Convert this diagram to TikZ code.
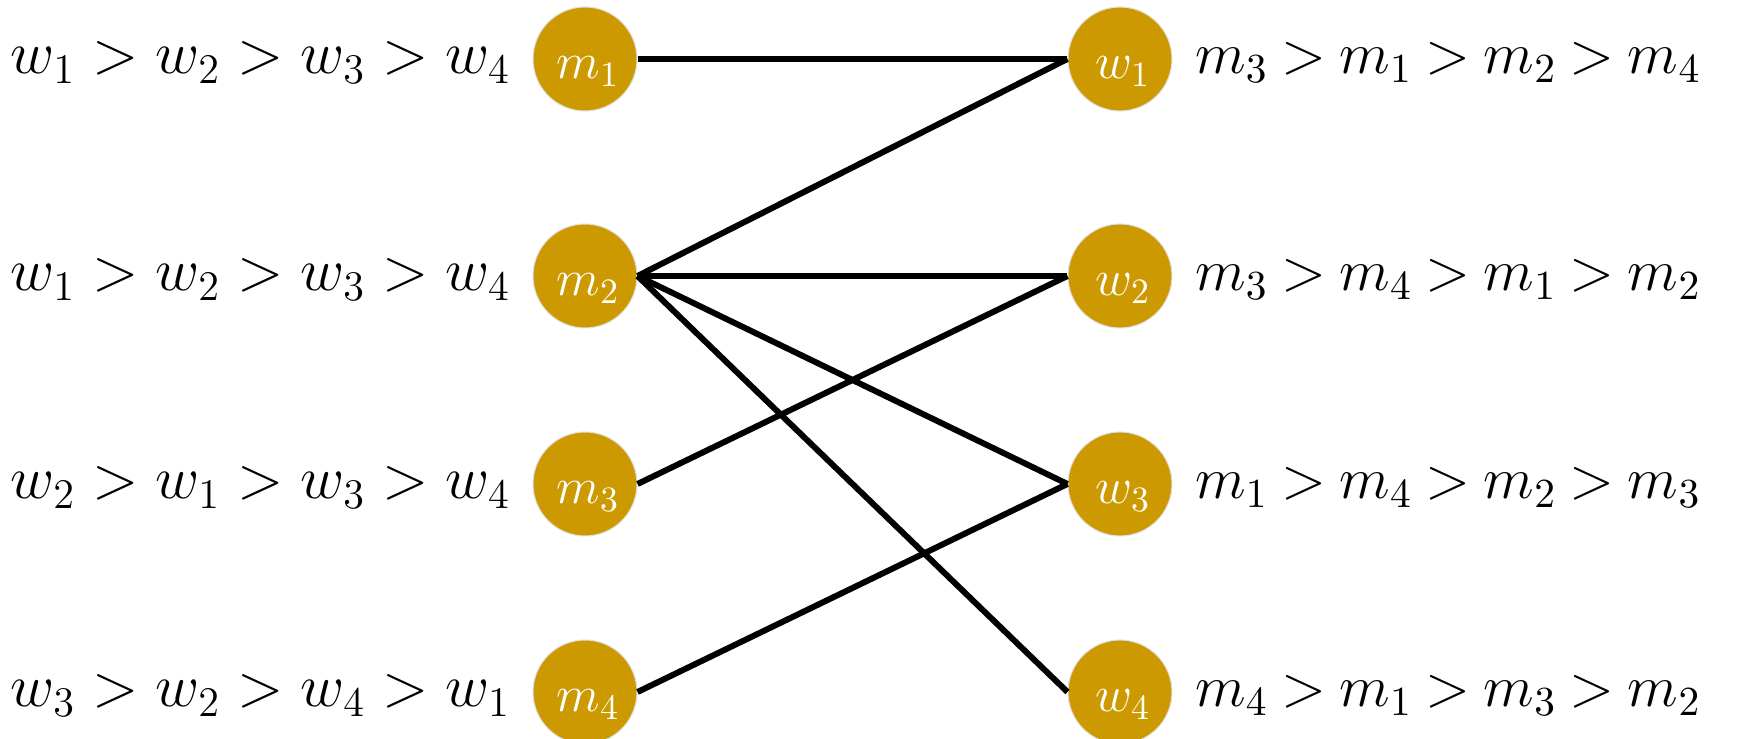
\documentclass[tikz,border=0pt]{standalone}
\usepackage{fix-cm}
\definecolor{gold}{RGB}{204,153,0}
\newcommand\rpreflist[1]{$\thickmuskip=4mu plus 5mu\relax #1$}
\begin{document}
\begin{tikzpicture}[x=1cm,y=1cm,
  person/.style={circle,fill=gold,draw=white!88!black,line width=0.3pt,minimum size=1.04cm,inner sep=0pt},
  inlabel/.style={text=white,font=\fontsize{14.5}{16}\selectfont,anchor=base},
  prefl/.style={font=\fontsize{17.28}{20}\selectfont,anchor=base east},
  prefr/.style={font=\fontsize{16.8}{20}\selectfont,anchor=base west},
  edge/.style={line width=1.7pt,black}]
\useasboundingbox (0,0) rectangle (17.45,7.39);
% men
\node[person] (m1) at (5.85,6.80) {};
\node[person] (m2) at (5.85,4.63) {};
\node[person] (m3) at (5.85,2.55) {};
\node[person] (m4) at (5.85,0.47) {};
% women
\node[person] (w1) at (11.20,6.80) {};
\node[person] (w2) at (11.20,4.63) {};
\node[person] (w3) at (11.20,2.55) {};
\node[person] (w4) at (11.20,0.47) {};
% labels in circles
\foreach \i in {1,2,3,4}{
  \node[inlabel] (lm\i) at ([xshift=0.03cm,yshift=-0.2cm]m\i.center) {$m_\i$};
  \node[inlabel] (lw\i) at ([xshift=0.03cm,yshift=-0.2cm]w\i.center) {$w_\i$};
}
% preference lists
\node[prefl] (pm1) at ([xshift=-0.62cm,yshift=-0.15cm]m1.center) {$w_1 > w_2 > w_3 > w_4$};
\node[prefl] (pm2) at ([xshift=-0.62cm,yshift=-0.15cm]m2.center) {$w_1 > w_2 > w_3 > w_4$};
\node[prefl] (pm3) at ([xshift=-0.62cm,yshift=-0.15cm]m3.center) {$w_2 > w_1 > w_3 > w_4$};
\node[prefl] (pm4) at ([xshift=-0.62cm,yshift=-0.15cm]m4.center) {$w_3 > w_2 > w_4 > w_1$};
\node[prefr] (pw1) at ([xshift=0.63cm,yshift=-0.15cm]w1.center) {\rpreflist{m_3 > m_1 > m_2 > m_4}};
\node[prefr] (pw2) at ([xshift=0.63cm,yshift=-0.15cm]w2.center) {\rpreflist{m_3 > m_4 > m_1 > m_2}};
\node[prefr] (pw3) at ([xshift=0.63cm,yshift=-0.15cm]w3.center) {\rpreflist{m_1 > m_4 > m_2 > m_3}};
\node[prefr] (pw4) at ([xshift=0.63cm,yshift=-0.15cm]w4.center) {\rpreflist{m_4 > m_1 > m_3 > m_2}};
% edges
\draw[edge] (m1.east) -- (w1.west);
\draw[edge] (m2.east) -- (w1.west);
\draw[edge] (m2.east) -- (w2.west);
\draw[edge] (m2.east) -- (w3.west);
\draw[edge] (m2.east) -- (w4.west);
\draw[edge] (m3.east) -- (w2.west);
\draw[edge] (m4.east) -- (w3.west);
\end{tikzpicture}
\end{document}
